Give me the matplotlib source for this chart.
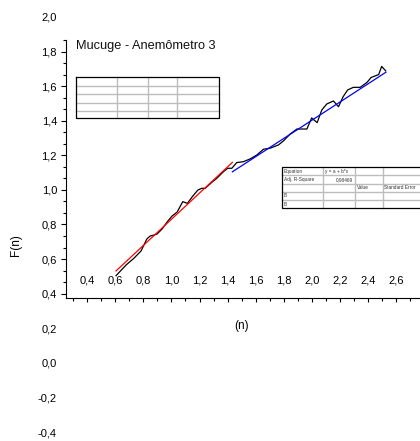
import numpy as np
import matplotlib
matplotlib.use("Agg")
import matplotlib.pyplot as plt
from matplotlib.ticker import FixedLocator, MultipleLocator, FuncFormatter

plt.rcParams.update({
    "font.family": ["Liberation Sans", "DejaVu Sans"],
    "font.size": 8,
    "axes.linewidth": 0.8,
    "text.color": "#111111",
})

# F(n) versus n
n_vals = [0.606, 0.678, 0.735, 0.784, 0.825, 0.848, 0.877, 0.898, 0.934, 0.969,
          1.005, 1.041, 1.062, 1.081, 1.114, 1.147, 1.188, 1.216, 1.240, 1.288,
          1.323, 1.370, 1.401, 1.430, 1.465, 1.512, 1.560, 1.608, 1.655, 1.702,
          1.762, 1.797, 1.845, 1.893, 1.964, 1.998, 2.037, 2.070, 2.106, 2.153,
          2.189, 2.222, 2.254, 2.295, 2.343, 2.391, 2.421, 2.450, 2.475, 2.496,
          2.525]
f_vals = [0.504, 0.566, 0.606, 0.647, 0.716, 0.733, 0.739, 0.745, 0.774, 0.814,
          0.849, 0.872, 0.904, 0.932, 0.922, 0.959, 0.999, 1.009, 1.009, 1.044,
          1.067, 1.105, 1.125, 1.125, 1.158, 1.163, 1.179, 1.202, 1.235, 1.241,
          1.260, 1.283, 1.323, 1.352, 1.352, 1.416, 1.389, 1.462, 1.497, 1.514,
          1.481, 1.539, 1.578, 1.593, 1.593, 1.621, 1.650, 1.659, 1.667, 1.714,
          1.688]

# linear fits y = a + b*x on the two ranges
red_range = [0.606, 1.434]
red_ab = [0.072, 0.758]
blue_range = [1.434, 2.526]
blue_ab = [0.349, 0.527]
adj_r_square = "0,98469"

y_ticks = [-0.4, -0.2, 0.0, 0.2, 0.4, 0.6, 0.8, 1.0, 1.2, 1.4, 1.6, 1.8, 2.0]
x_ticks = [0.4, 0.6, 0.8, 1.0, 1.2, 1.4, 1.6, 1.8, 2.0, 2.2, 2.4, 2.6]

y_axis_lo, y_axis_hi = 0.375, 1.867
W, H = 420, 441

fig = plt.figure(figsize=(W / 100, H / 100), dpi=100)
ax = fig.add_axes([66 / W, 0, 364 / W, 1])
ax.set_xlim(0.25, 2.84)
ax.set_ylim(-0.452, 2.098)

ax.plot(n_vals, f_vals, color="black", lw=0.9, zorder=3)
rx = np.array(red_range)
ax.plot(rx, red_ab[0] + red_ab[1] * rx, color="red", lw=0.9, zorder=4)
bx = np.array(blue_range)
ax.plot(bx, blue_ab[0] + blue_ab[1] * bx, color="blue", lw=0.9, zorder=4)

for side in ("top", "right"):
    ax.spines[side].set_visible(False)
ax.spines["left"].set_bounds(y_axis_lo, y_axis_hi)
ax.spines["bottom"].set_position(("data", y_axis_lo))

comma = FuncFormatter(lambda v, _: f"{v:.1f}".replace(".", ",").replace("-0,0", "0,0"))

ax.yaxis.set_major_locator(FixedLocator(y_ticks))
ax.yaxis.set_minor_locator(FixedLocator(list(np.arange(0.4, 1.86, 0.2 / 3)) + [y_axis_hi]))
ax.yaxis.set_major_formatter(comma)
ax.tick_params(axis="y", which="major", direction="out", length=3.5, width=0.8, pad=3, labelsize=8)
ax.tick_params(axis="y", which="minor", direction="out", length=2.2, width=0.8)
for tick, v in zip(ax.yaxis.get_major_ticks(), y_ticks):
    if v < y_axis_lo or v > y_axis_hi:
        tick.tick1line.set_visible(False)

ax.xaxis.set_major_locator(FixedLocator(x_ticks + [2.8]))
ax.xaxis.set_minor_locator(MultipleLocator(0.1))
ax.xaxis.set_major_formatter(FuncFormatter(lambda v, _: "" if v > 2.7 else comma(v, _)))
ax.tick_params(axis="x", which="major", direction="out", length=3, width=0.8, pad=-19.5, labelsize=8)
ax.tick_params(axis="x", which="minor", direction="out", length=2, width=0.8)

ax.set_xlabel("(n)", fontsize=8.5)
ax.xaxis.label.set_va("center")
ax.xaxis.set_label_coords((242 - 66) / 364, 1 - 326 / H)
ax.set_ylabel("F(n)", fontsize=8.5)
ax.yaxis.label.set_va("center")
ax.yaxis.set_label_coords((16 - 66) / 364, 1 - 245 / H)

# overlay in pixel units for the title and the two fit tables
ov = fig.add_axes([0, 0, 1, 1], zorder=5)
ov.set_xlim(0, W)
ov.set_ylim(H, 0)
ov.axis("off")
ov.patch.set_alpha(0)

ov.text(76, 46, "Mucuge - Anemômetro 3", fontsize=9.2, va="center", ha="left")

grid_c = "#bdbdbd"

# left table
t1_x0, t1_x1, t1_y0, t1_y1 = 76, 219, 77, 118
for yy in (85.5, 94, 102.5, 110.5):
    ov.plot([t1_x0, t1_x1], [yy, yy], color=grid_c, lw=1.0)
for xx in (117, 148, 177):
    ov.plot([xx, xx], [t1_y0, t1_y1], color=grid_c, lw=1.0)
ov.plot([t1_x0, t1_x1, t1_x1, t1_x0, t1_x0], [t1_y0, t1_y0, t1_y1, t1_y1, t1_y0],
        color="black", lw=0.9)

# right table
t2_x0, t2_x1, t2_y0, t2_y1 = 282, 430, 167, 208.3
rows = [167, 175.3, 183.5, 191.7, 200, 208.3]
cols = [282, 323, 354.5, 382.5, 430]
for yy in rows[1:-1]:
    ov.plot([t2_x0, t2_x1], [yy, yy], color=grid_c, lw=1.0)
for xx in cols[1:-1]:
    ov.plot([xx, xx], [t2_y0, t2_y1], color=grid_c, lw=1.0)
ov.plot([t2_x1, t2_x0, t2_x0, t2_x1], [t2_y0, t2_y0, t2_y1, t2_y1], color="black", lw=0.9)

cells = [
    (0, 0, "Equation", "left"), (0, 1, "y = a + b*x", "left"),
    (1, 0, "Adj. R-Square", "left"), (1, 1, adj_r_square, "right"),
    (2, 2, "Value", "left"), (2, 3, "Standard Error", "left"),
    (3, 0, "B", "left"), (4, 0, "B", "left"),
]
for r, c, txt, ha in cells:
    yy = (rows[r] + rows[r + 1]) / 2
    xx = cols[c] + 2 if ha == "left" else cols[c + 1] - 2
    ov.text(xx, yy, txt, fontsize=3.4, ha=ha, va="center", color="#333333")

fig.savefig("out.png", dpi=100)
